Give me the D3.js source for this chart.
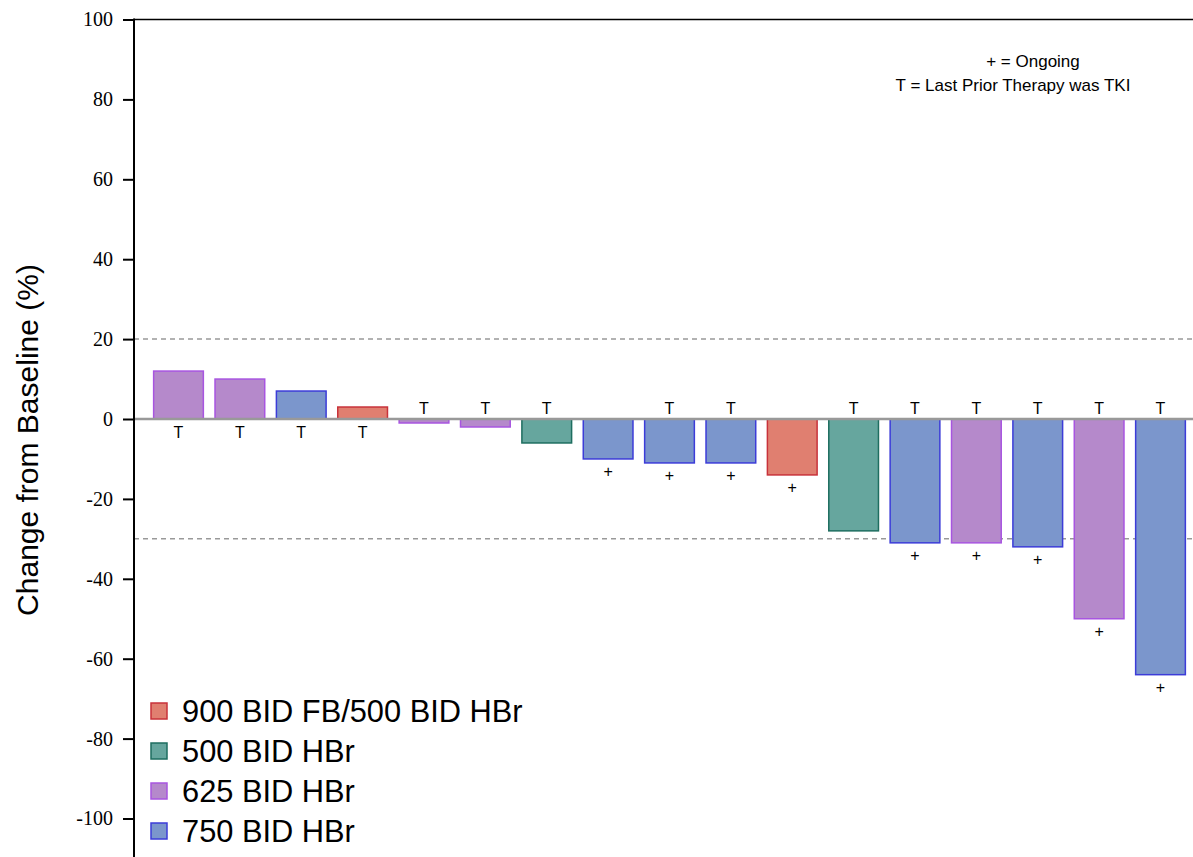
<!DOCTYPE html>
<html><head><meta charset="utf-8">
<script src="https://cdn.jsdelivr.net/npm/d3@7"></script>
<style>body{margin:0;background:#fff}svg{display:block}</style>
</head><body><svg id="c" width="1193" height="857"></svg>
<script>
const patients = ["P1","P2","P3","P4","P5","P6","P7","P8","P9","P10","P11","P12","P13","P14","P15","P16","P17"];
const values = [12,10,7,3,-1,-2,-6,-10,-11,-11,-14,-28,-31,-31,-32,-50,-64];
const groups = ["625","625","750","900","625","625","500","750","750","750","900","500","750","625","750","625","750"];
const tkiFlags = [1,1,1,1,1,1,1,0,1,1,0,1,1,1,1,1,1];
const ongoingFlags = [0,0,0,0,0,0,0,1,1,1,1,0,1,1,1,1,1];
const groupKeys = ["900","500","625","750"];
const groupLabels = ["900 BID FB/500 BID HBr","500 BID HBr","625 BID HBr","750 BID HBr"];
const yTicks = [100,80,60,40,20,0,-20,-40,-60,-80,-100];
const refLines = [20,-30];

const fills = {"900":"#E07F70","500":"#66A69E","625":"#B589CB","750":"#7B96CC"};
const strokes = {"900":"#C8323A","500":"#1E6E60","625":"#A855E0","750":"#3C3CD8"};

const rows = patients.map((p,i)=>({p, v:values[i], g:groups[i], t:tkiFlags[i], o:ongoingFlags[i]}));

const svg = d3.select("#c");
const axisX = 134;
const sans = "Liberation Sans, Arial, sans-serif";
const y = d3.scaleLinear().domain([-100,100]).range([818.5,19.5]);
const x = d3.scaleBand().domain(patients).range([147,1191]).paddingInner(0.19).paddingOuter(0.1);

// reference lines
svg.selectAll(".ref").data(refLines).enter().append("line")
  .attr("x1",axisX).attr("x2",1193).attr("y1",d=>y(d)).attr("y2",d=>y(d))
  .attr("stroke","#999").attr("stroke-width",1.5).attr("stroke-dasharray","5,4");

// bars
svg.selectAll(".bar").data(rows).enter().append("rect")
  .attr("x",d=>x(d.p)+0.5)
  .attr("width",x.bandwidth())
  .attr("y",d=>y(Math.max(0,d.v)))
  .attr("height",d=>Math.abs(y(d.v)-y(0)))
  .attr("fill",d=>fills[d.g])
  .attr("stroke",d=>strokes[d.g])
  .attr("stroke-width",1.5);

// zero line
svg.append("line").attr("x1",axisX).attr("x2",1193).attr("y1",y(0)).attr("y2",y(0))
  .attr("stroke","#999").attr("stroke-width",2.5);

// T labels
svg.selectAll(".t").data(rows.filter(d=>d.t)).enter().append("text")
  .attr("x",d=>x(d.p)+x.bandwidth()/2+0.5)
  .attr("y",d=>d.v>0?y(0)+19:y(0)-5)
  .attr("text-anchor","middle").attr("font-family",sans)
  .attr("font-size",16).text("T");

// + labels
svg.selectAll(".p").data(rows.filter(d=>d.o)).enter().append("text")
  .attr("x",d=>x(d.p)+x.bandwidth()/2+0.5)
  .attr("y",d=>y(d.v)+18)
  .attr("text-anchor","middle").attr("font-family",sans)
  .attr("font-size",16).text("+");

// y axis
const yAxis = d3.axisLeft(y).tickValues(yTicks).tickSize(11).tickPadding(10).tickFormat(d=>String(d));
const ga = svg.append("g").attr("transform",`translate(${axisX},0)`).call(yAxis);
ga.select(".domain").remove();
ga.selectAll(".tick line").attr("stroke","#000").attr("stroke-width",2);
ga.selectAll(".tick text").attr("font-family","Liberation Serif, DejaVu Serif, serif").attr("font-size",20).attr("fill","#000");
ga.attr("font-family",null).attr("font-size",null);
svg.append("line").attr("x1",axisX).attr("x2",axisX).attr("y1",18.5).attr("y2",857).attr("stroke","#000").attr("stroke-width",2);
svg.append("line").attr("x1",axisX).attr("x2",1193).attr("y1",19.5).attr("y2",19.5).attr("stroke","#000").attr("stroke-width",1.5);

// y label
svg.append("text").attr("transform","translate(38,440) rotate(-90)")
  .attr("text-anchor","middle").attr("font-family",sans)
  .attr("font-size",30).text("Change from Baseline (%)");

// annotation
svg.append("text").attr("x",1033).attr("y",67).attr("text-anchor","middle")
  .attr("font-family",sans).attr("font-size",17).text("+ = Ongoing");
svg.append("text").attr("x",1013).attr("y",91).attr("text-anchor","middle")
  .attr("font-family",sans).attr("font-size",17).text("T = Last Prior Therapy was TKI");

// legend
const lg = svg.selectAll(".lg").data(groupKeys).enter().append("g")
  .attr("transform",(d,i)=>`translate(151,${703+i*40})`);
lg.append("rect").attr("width",16).attr("height",16)
  .attr("fill",d=>fills[d]).attr("stroke",d=>strokes[d]).attr("stroke-width",1.5);
lg.append("text").attr("x",31).attr("y",19).attr("font-family",sans)
  .attr("font-size",30.8).text((d,i)=>groupLabels[i]);
</script></body></html>
